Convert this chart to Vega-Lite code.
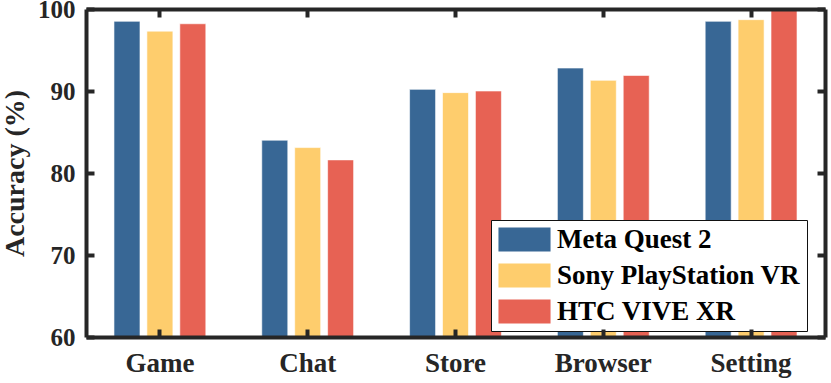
{
  "$schema": "https://vega.github.io/schema/vega-lite/v6.json",
  "width": 739,
  "height": 328,
  "autosize": {"type": "none"},
  "padding": {"left": 86, "top": 9, "right": 6, "bottom": 46},
  "background": "white",
  "config": {
    "view": {"stroke": null},
    "font": "Liberation Serif",
    "axis": {
      "domainColor": "#262626",
      "domainWidth": 4,
      "labelFont": "Liberation Serif",
      "labelFontWeight": "bold",
      "labelColor": "#262626",
      "titleFont": "Liberation Serif",
      "titleFontWeight": "bold",
      "titleColor": "#262626",
      "grid": false
    }
  },
  "data": {
    "values": [
      {"task": "Game", "device": "Meta Quest 2", "acc": 98.5},
      {"task": "Game", "device": "Sony PlayStation VR", "acc": 97.3},
      {"task": "Game", "device": "HTC VIVE XR", "acc": 98.2},
      {"task": "Chat", "device": "Meta Quest 2", "acc": 84.0},
      {"task": "Chat", "device": "Sony PlayStation VR", "acc": 83.1},
      {"task": "Chat", "device": "HTC VIVE XR", "acc": 81.6},
      {"task": "Store", "device": "Meta Quest 2", "acc": 90.2},
      {"task": "Store", "device": "Sony PlayStation VR", "acc": 89.8},
      {"task": "Store", "device": "HTC VIVE XR", "acc": 90.0},
      {"task": "Browser", "device": "Meta Quest 2", "acc": 92.8},
      {"task": "Browser", "device": "Sony PlayStation VR", "acc": 91.3},
      {"task": "Browser", "device": "HTC VIVE XR", "acc": 91.9},
      {"task": "Setting", "device": "Meta Quest 2", "acc": 98.5},
      {"task": "Setting", "device": "Sony PlayStation VR", "acc": 98.7},
      {"task": "Setting", "device": "HTC VIVE XR", "acc": 99.9}
    ]
  },
  "layer": [
    {
      "mark": {"type": "bar", "clip": true, "stroke": "#ffffff", "strokeOpacity": 0.6, "strokeWidth": 1},
      "encoding": {
        "x": {
          "field": "task", "type": "nominal",
          "sort": ["Game", "Chat", "Store", "Browser", "Setting"],
          "scale": {"paddingInner": 0, "paddingOuter": 0},
          "axis": {"orient": "bottom", "title": null, "labelAngle": 0, "labelFontSize": 27, "labelPadding": 21, "zindex": 2,
            "ticks": true, "tickColor": "#262626", "tickWidth": 4, "tickSize": -8}
        },
        "xOffset": {
          "field": "device", "type": "nominal",
          "sort": ["Meta Quest 2", "Sony PlayStation VR", "HTC VIVE XR"],
          "scale": {"paddingInner": 0.21, "paddingOuter": 0.85}
        },
        "y": {
          "field": "acc", "type": "quantitative",
          "scale": {"domain": [60, 100], "nice": false, "zero": false},
          "axis": {"orient": "left", "title": "Accuracy (%)", "values": [60, 70, 80, 90, 100], "labelFontSize": 25, "labelPadding": 19, "titleFontSize": 28, "titlePadding": 8, "zindex": 2,
            "ticks": true, "tickColor": "#262626", "tickWidth": 4, "tickSize": -8}
        },
        "color": {
          "field": "device", "type": "nominal",
          "sort": ["Meta Quest 2", "Sony PlayStation VR", "HTC VIVE XR"],
          "scale": {"range": ["#386795", "#fecd6d", "#e76254"]},
          "legend": {
            "title": null,
            "orient": "none",
            "legendX": 405,
            "legendY": 211,
            "strokeColor": "#111111",
            "fillColor": "white",
            "padding": 6,
            "cornerRadius": 0,
            "symbolType": "M-2.17,-1H2.17V1H-2.17Z",
            "symbolSize": 576,
            "symbolStrokeWidth": 0,
            "symbolOpacity": 1,
            "symbolOffset": 14,
            "labelOffset": 19,
            "labelFont": "Liberation Serif",
            "labelFontWeight": "bold",
            "labelFontSize": 27,
            "labelColor": "#000000",
            "labelLimit": 400,
            "rowPadding": 8,
            "encode": {"legend": {"update": {"strokeWidth": {"value": 4}}}}
          }
        }
      }
    },
    {
      "mark": {"type": "bar", "opacity": 0},
      "encoding": {
        "x": {
          "field": "task", "type": "nominal",
          "sort": ["Game", "Chat", "Store", "Browser", "Setting"],
          "axis": {"orient": "top", "title": null, "labels": false, "zindex": 2,
            "ticks": true, "tickColor": "#262626", "tickWidth": 4, "tickSize": -8}
        },
        "y": {
          "field": "acc", "type": "quantitative",
          "axis": {"orient": "right", "title": null, "labels": false, "values": [60, 70, 80, 90, 100], "zindex": 2,
            "ticks": true, "tickColor": "#262626", "tickWidth": 4, "tickSize": -8}
        }
      }
    }
  ],
  "resolve": {"axis": {"x": "independent", "y": "independent"}}
}
